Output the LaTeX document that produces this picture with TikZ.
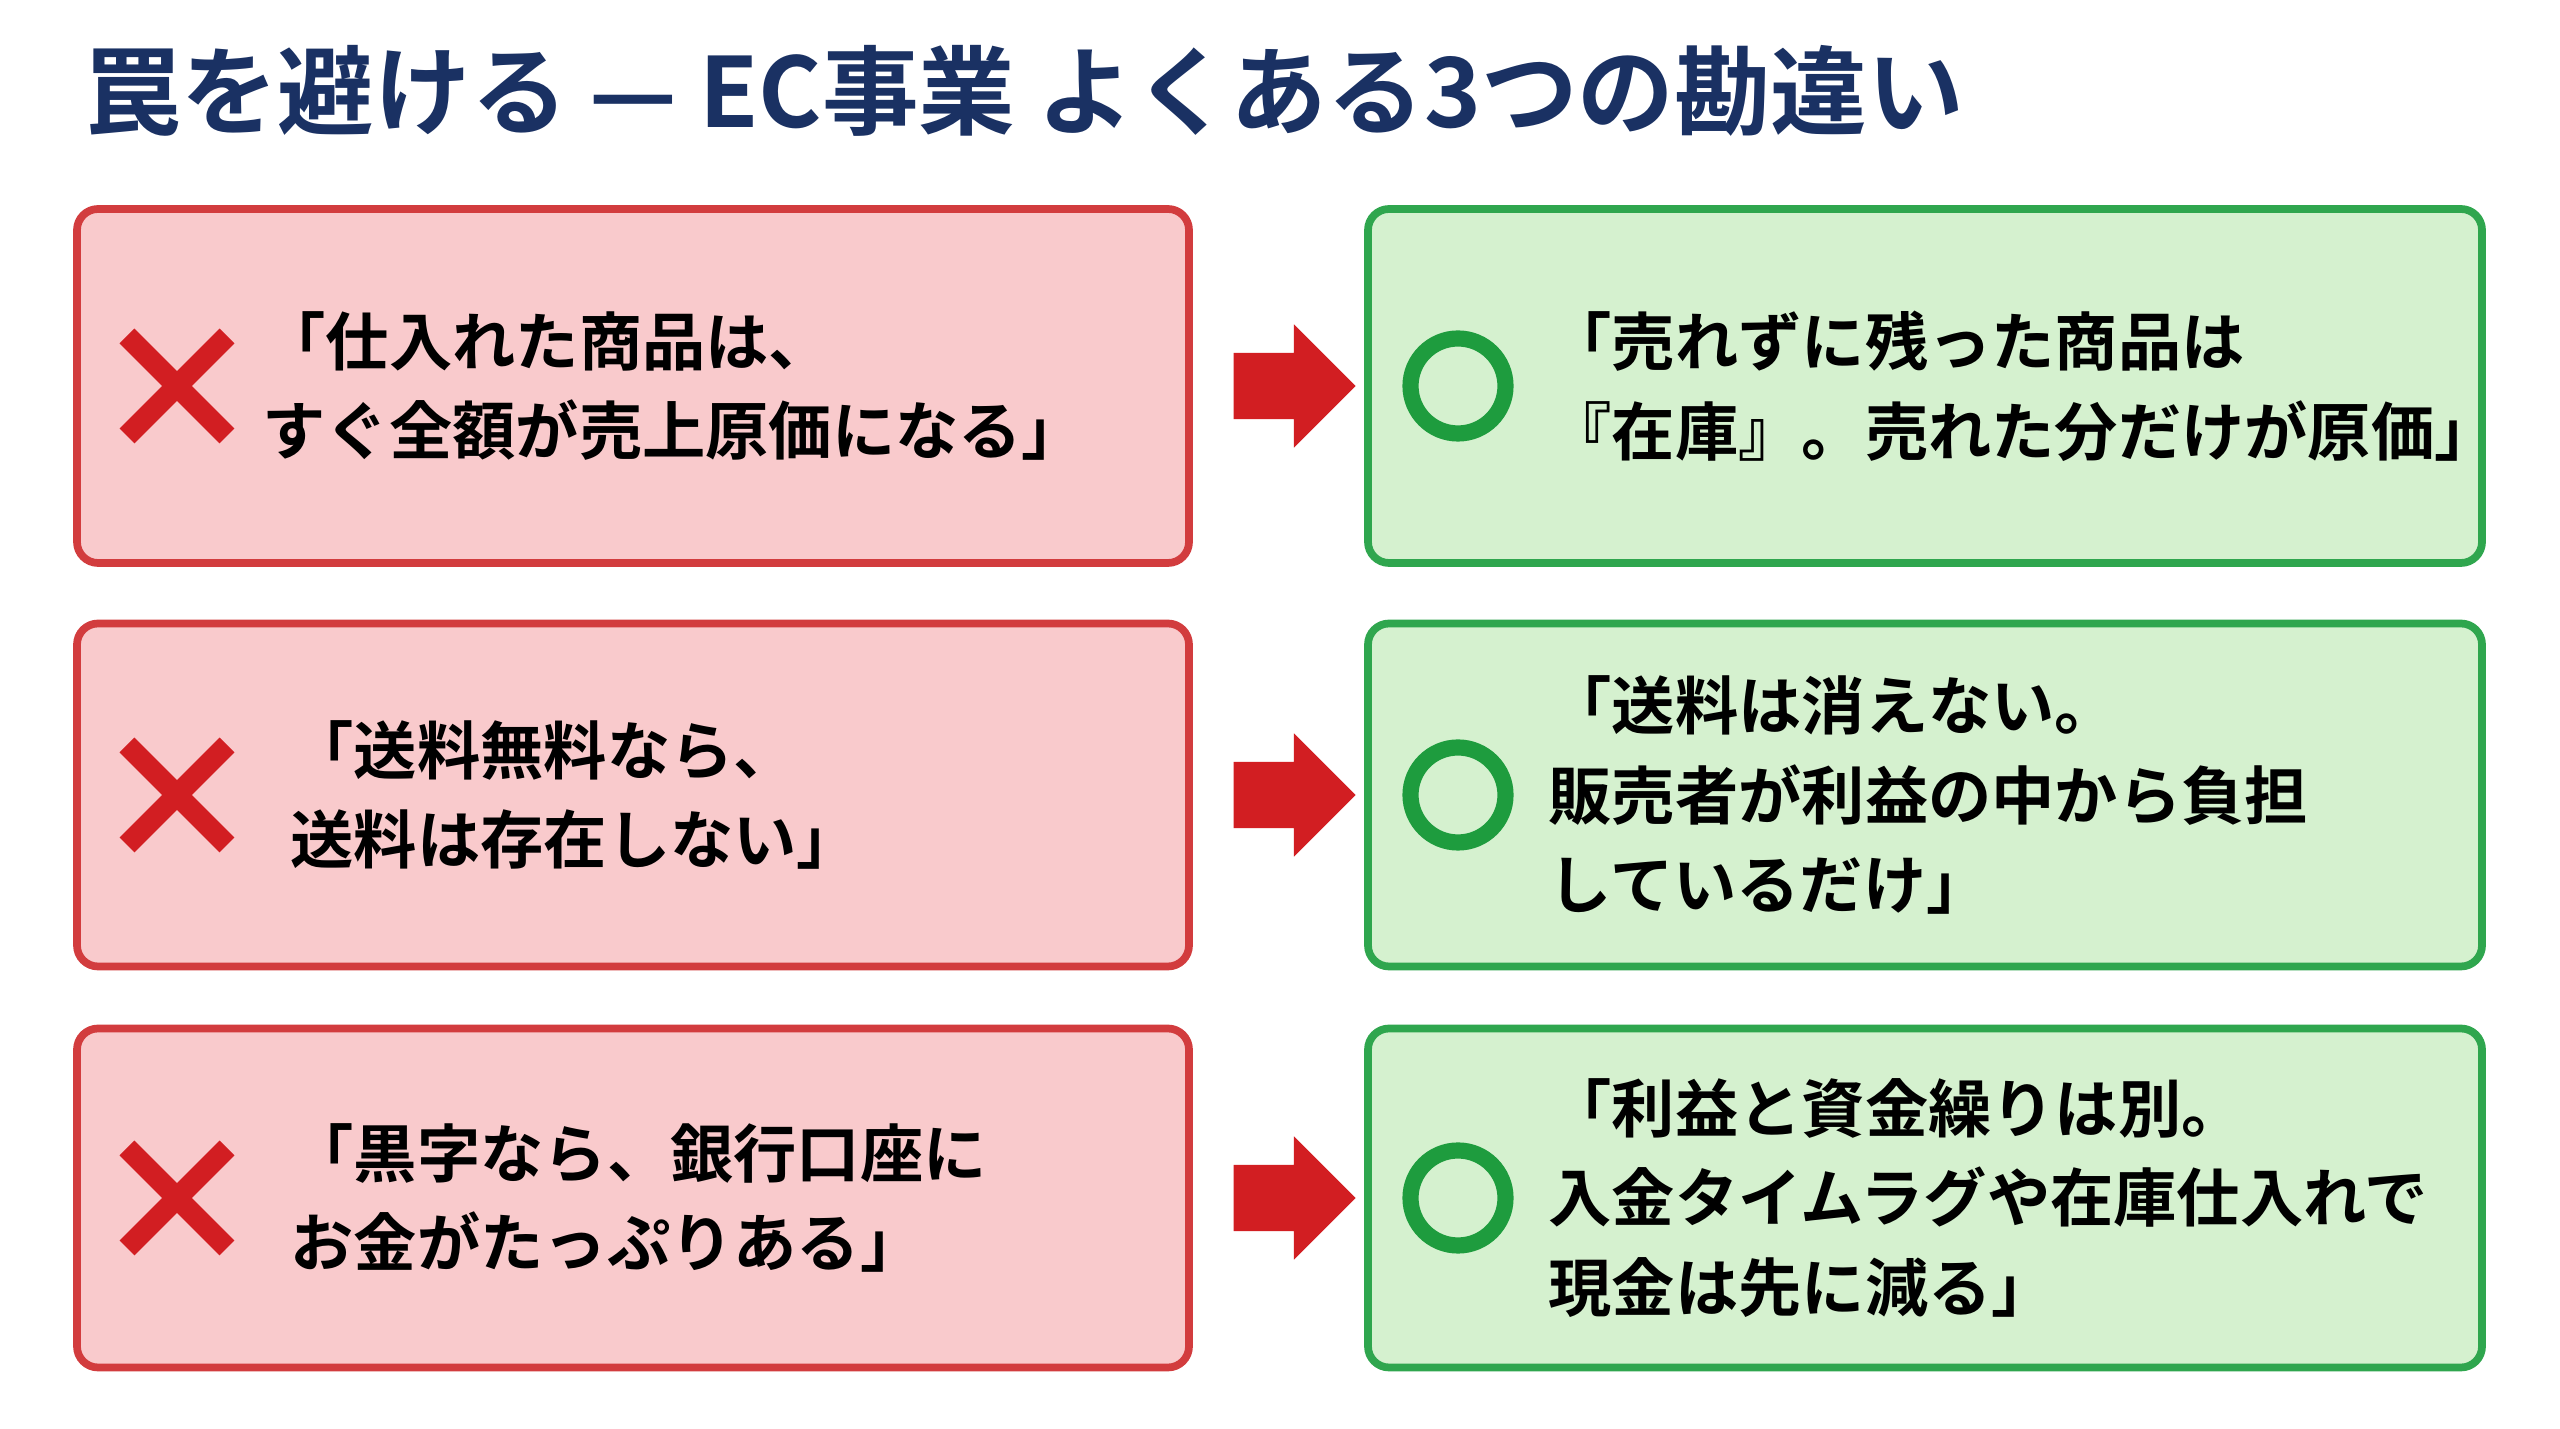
\documentclass[tikz,border=0pt]{standalone}
\usepackage{fontspec}
\setmainfont{Noto Sans CJK JP}[BoldFont={Noto Sans CJK JP Bold}]
\usetikzlibrary{positioning, shapes.arrows}
\definecolor{navy}{HTML}{1A3163}
\definecolor{badfill}{HTML}{F9CACC}
\definecolor{badline}{HTML}{D23C3E}
\definecolor{goodfill}{HTML}{D5F1CF}
\definecolor{goodline}{HTML}{2FA64E}
\definecolor{markred}{HTML}{D21E22}
\definecolor{markgreen}{HTML}{1E9C3E}
\tikzset{
  bad/.style={draw=badline, fill=badfill, line width=2.2pt, rounded corners=6pt,
    minimum width=11.12cm, minimum height=#1, inner sep=0pt},
  good/.style={draw=goodline, fill=goodfill, line width=2.2pt, rounded corners=6pt,
    minimum width=11.14cm, minimum height=#1, inner sep=0pt},
  txt/.style={anchor=west, align=left, inner sep=0pt, font=\fontsize{18}{25.5}\selectfont\bfseries, text=black},
  xmark/.style={markred, line width=6pt},
  omark/.style={draw=markgreen, line width=4.6pt, circle, minimum size=0.95cm, inner sep=0pt},
  go/.style={single arrow, fill=markred, draw=none, minimum height=1.22cm,
    single arrow head extend=0.285cm, inner sep=0pt}
}
\begin{document}
\begin{tikzpicture}
\useasboundingbox[fill=white] (0,0) rectangle (25.6,14.29);
\node[anchor=west, text=navy, font=\fontsize{27.5}{32}\selectfont\bfseries] (title) at (0.72,13.38)
  {罠を避ける — EC事業 よくある3つの勘違い};

% mistakes
\node[bad=3.54cm] (L1) at (6.33,10.43) {};
\node[bad=3.43cm] (L2) at (6.33,6.34) {};
\node[bad=3.39cm] (L3) at (6.33,2.31) {};
% corrections
\node[good=3.54cm] (R1) at (19.25,10.43) {};
\node[good=3.43cm] (R2) at (19.25,6.34) {};
\node[good=3.39cm] (R3) at (19.25,2.31) {};

\node[go] (A1) at (12.78,10.43) {\rule{0pt}{0.65cm}};
\node[go] (A2) at (12.78,6.34) {\rule{0pt}{0.65cm}};
\node[go] (A3) at (12.78,2.31) {\rule{0pt}{0.65cm}};

\coordinate (X1) at (1.77,10.43);
\coordinate (X2) at (1.77,6.34);
\coordinate (X3) at (1.77,2.31);
\draw[xmark] ([shift={(-0.5,-0.5)}]X1) -- ([shift={(0.5,0.5)}]X1)
  ([shift={(-0.5,0.5)}]X1) -- ([shift={(0.5,-0.5)}]X1);
\draw[xmark] ([shift={(-0.5,-0.5)}]X2) -- ([shift={(0.5,0.5)}]X2)
  ([shift={(-0.5,0.5)}]X2) -- ([shift={(0.5,-0.5)}]X2);
\draw[xmark] ([shift={(-0.5,-0.5)}]X3) -- ([shift={(0.5,0.5)}]X3)
  ([shift={(-0.5,0.5)}]X3) -- ([shift={(0.5,-0.5)}]X3);

\node[omark] (O1) at (14.58,10.43) {};
\node[omark] (O2) at (14.58,6.34) {};
\node[omark] (O3) at (14.58,2.31) {};

\node[txt] (t1) at (2.62,10.43) {「仕入れた商品は、\\すぐ全額が売上原価になる」};
\node[txt] (t2) at (2.9,6.34) {「送料無料なら、\\送料は存在しない」};
\node[txt] (t3) at (2.9,2.31) {「黒字なら、銀行口座に\\お金がたっぷりある」};
\node[txt] (u1) at (15.48,10.43) {「売れずに残った商品は\\『在庫』。売れた分だけが原価」};
\node[txt] (u2) at (15.48,6.34) {「送料は消えない。\\販売者が利益の中から負担\\しているだけ」};
\node[txt] (u3) at (15.48,2.31) {「利益と資金繰りは別。\\入金タイムラグや在庫仕入れで\\現金は先に減る」};
\end{tikzpicture}
\end{document}
